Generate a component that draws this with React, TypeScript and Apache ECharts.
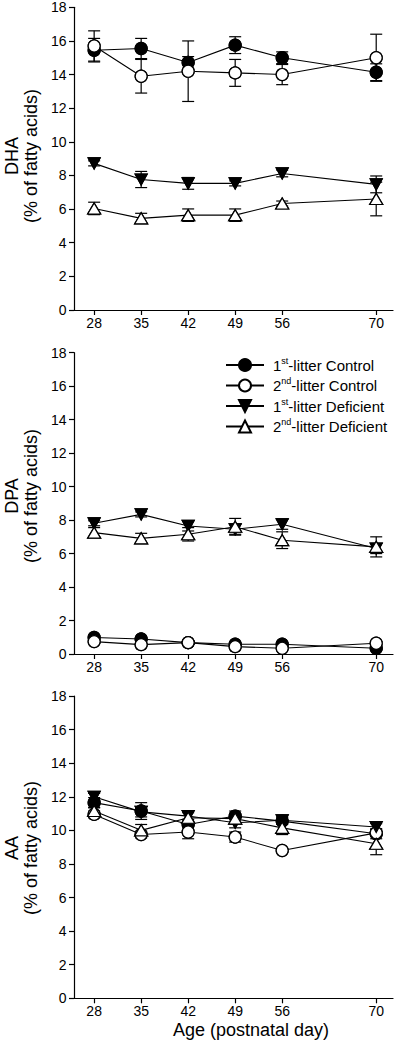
import React, { useEffect, useRef } from "react";
import * as echarts from "echarts";

const ages = [28, 35, 42, 49, 56, 70];
const xTicks = [28, 35, 42, 49, 56, 70];
const seriesNames = ["1st-litter Control", "2nd-litter Control", "1st-litter Deficient", "2nd-litter Deficient"];
const panelNames = ["DHA", "DPA", "AA"];

// DHA (% of fatty acids)
const dha1C = [15.45, 15.55, 14.72, 15.75, 15.0, 14.14];
const dha1CErr = [0.7, 0.6, 0.35, 0.5, 0.35, 0.5];
const dha2C = [15.7, 13.9, 14.2, 14.1, 14.0, 15.0];
const dha2CErr = [0.9, 1.0, 1.8, 0.8, 0.6, 1.4];
const dha1D = [8.72, 7.76, 7.53, 7.53, 8.12, 7.47];
const dha1DErr = [0.15, 0.48, 0.35, 0.15, 0.2, 0.5];
const dha2D = [6.04, 5.45, 5.64, 5.64, 6.33, 6.6];
const dha2DErr = [0.37, 0.3, 0.37, 0.37, 0.15, 1.0];

// DPA
const dpa1C = [0.99, 0.9, 0.68, 0.58, 0.58, 0.34];
const dpa1CErr = [0.1, 0.1, 0.08, 0.08, 0.08, 0.08];
const dpa2C = [0.74, 0.56, 0.68, 0.44, 0.34, 0.64];
const dpa2CErr = [0.1, 0.08, 0.08, 0.08, 0.08, 0.1];
const dpa1D = [7.81, 8.34, 7.65, 7.45, 7.75, 6.3];
const dpa1DErr = [0.15, 0.15, 0.3, 0.3, 0.3, 0.3];
const dpa2D = [7.25, 6.91, 7.15, 7.6, 6.8, 6.4];
const dpa2DErr = [0.3, 0.3, 0.4, 0.5, 0.5, 0.6];

// AA
const aa1C = [11.65, 11.15, 10.35, 10.85, 10.55, 9.8];
const aa1CErr = [0.3, 0.5, 0.3, 0.3, 0.2, 0.3];
const aa2C = [10.95, 9.75, 9.9, 9.6, 8.8, 9.85];
const aa2CErr = [0.2, 0.2, 0.4, 0.3, 0.1, 0.2];
const aa1D = [12.0, 11.1, 10.85, 10.45, 10.6, 10.2];
const aa1DErr = [0.2, 0.3, 0.3, 0.3, 0.2, 0.2];
const aa2D = [11.15, 10.0, 10.75, 10.7, 10.15, 9.2];
const aa2DErr = [0.2, 0.35, 0.3, 0.3, 0.4, 0.65];

const panels = [
  { values: [dha1C, dha2C, dha1D, dha2D], errs: [dha1CErr, dha2CErr, dha1DErr, dha2DErr] },
  { values: [dpa1C, dpa2C, dpa1D, dpa2D], errs: [dpa1CErr, dpa2CErr, dpa1DErr, dpa2DErr] },
  { values: [aa1C, aa2C, aa1D, aa2D], errs: [aa1CErr, aa2CErr, aa1DErr, aa2DErr] },
];

const FONT = "'Liberation Sans', Arial, Helvetica, sans-serif";
const DOWN_TRI = "path://M0,0L12,0L6,11Z";
const symbolFor = [
  { symbol: "circle", fill: "#000", size: 12 },
  { symbol: "circle", fill: "#fff", size: 12 },
  { symbol: DOWN_TRI, fill: "#000", size: [12, 11] },
  { symbol: "triangle", fill: "#fff", size: [13, 11] },
];

const grids = [
  { left: 74, top: 7.3, width: 319, height: 302.7 },
  { left: 74, top: 352.7, width: 319, height: 301.3 },
  { left: 74, top: 696, width: 319, height: 302.3 },
];
const titleY = [156, 496, 848];

export default function App() {
  const ref = useRef<HTMLDivElement>(null);
  useEffect(() => {
    if (!ref.current) return;
    const chart = echarts.init(ref.current, undefined, { renderer: "svg" });

    const xAxes = grids.map((_, i) => ({
      type: "value",
      gridIndex: i,
      min: 25,
      max: 72.5,
      splitLine: { show: false },
      axisLine: { lineStyle: { color: "#000", width: 1.2 } },
      axisTick: { customValues: xTicks, length: 5, lineStyle: { color: "#000", width: 1.2 } },
      axisLabel: { customValues: xTicks, margin: 6, fontSize: 14, color: "#000", fontFamily: FONT },
    }));
    const yAxes = grids.map((_, i) => ({
      type: "value",
      gridIndex: i,
      min: 0,
      max: 18,
      interval: 2,
      splitLine: { show: false },
      axisLine: { show: true, lineStyle: { color: "#000", width: 1.2 } },
      axisTick: { show: true, length: 5, lineStyle: { color: "#000", width: 1.2 } },
      axisLabel: { margin: 7.5, fontSize: 14, color: "#000", fontFamily: FONT },
    }));

    const series: any[] = [];
    panels.forEach((p, pi) => {
      // error bars
      const errData: number[][] = [];
      p.values.forEach((vals, si) => {
        vals.forEach((v, k) => {
          errData.push([ages[k], v - p.errs[si][k], v + p.errs[si][k]]);
        });
      });
      series.push({
        type: "custom",
        name: "err" + pi,
        xAxisIndex: pi,
        yAxisIndex: pi,
        z: 1,
        encode: { x: 0, y: [1, 2] },
        data: errData,
        renderItem: (params: any, api: any) => {
          const x = api.value(0);
          const top = api.coord([x, api.value(2)]);
          const bot = api.coord([x, api.value(1)]);
          const hw = 6;
          const st = { stroke: "#000", lineWidth: 1.2 };
          return {
            type: "group",
            children: [
              { type: "line", shape: { x1: top[0], y1: top[1], x2: bot[0], y2: bot[1] }, style: st },
              { type: "line", shape: { x1: top[0] - hw, y1: top[1], x2: top[0] + hw, y2: top[1] }, style: st },
              { type: "line", shape: { x1: bot[0] - hw, y1: bot[1], x2: bot[0] + hw, y2: bot[1] }, style: st },
            ],
          };
        },
      });
      // lines
      p.values.forEach((vals, si) => {
        const s = symbolFor[si];
        series.push({
          type: "line",
          name: seriesNames[si],
          xAxisIndex: pi,
          yAxisIndex: pi,
          z: 2,
          data: vals.map((v, k) => [ages[k], v]),
          symbol: s.symbol,
          symbolSize: s.size,
          showAllSymbol: true,
          lineStyle: { color: "#000", width: 1.1 },
          itemStyle: { color: s.fill, borderColor: "#000", borderWidth: 1.2 },
        });
      });
      // markers on top
      p.values.forEach((vals, si) => {
        const s = symbolFor[si];
        series.push({
          type: "scatter",
          name: seriesNames[si],
          xAxisIndex: pi,
          yAxisIndex: pi,
          z: 3,
          data: vals.map((v, k) => [ages[k], v]),
          symbol: s.symbol,
          symbolSize: s.size,
          itemStyle: { color: s.fill, borderColor: "#000", borderWidth: 1.2, opacity: 1 },
        });
      });
    });

    const graphic: any[] = [];
    panelNames.forEach((nm, i) => {
      graphic.push({
        type: "text",
        x: 11.7,
        y: titleY[i],
        rotation: Math.PI / 2,
        style: { text: nm, font: `18px ${FONT}`, fill: "#000", textAlign: "center", textVerticalAlign: "middle" },
      });
      graphic.push({
        type: "text",
        x: 30.5,
        y: titleY[i],
        rotation: Math.PI / 2,
        style: { text: "(% of fatty acids)", font: `18px ${FONT}`, fill: "#000", textAlign: "center", textVerticalAlign: "middle" },
      });
    });
    graphic.push({
      type: "text",
      x: 251,
      y: 1030,
      style: { text: "Age (postnatal day)", font: `18px ${FONT}`, fill: "#000", textAlign: "center", textVerticalAlign: "middle" },
    });

    chart.setOption({
      animation: false,
      backgroundColor: "#fff",
      grid: grids,
      xAxis: xAxes,
      yAxis: yAxes,
      legend: {
        data: seriesNames,
        orient: "vertical",
        left: 225,
        top: 356,
        padding: 0,
        itemWidth: 38,
        itemHeight: 15,
        itemGap: 4,
        align: "left",
        formatter: (name: string) => {
          const m = name.match(/^(\d)(st|nd)(.*)$/);
          if (!m) return name;
          return `{n|${m[1]}}{s|${m[2]}}{n|${m[3]}}`;
        },
        textStyle: {
          fontFamily: FONT,
          fontSize: 15,
          color: "#000",
          padding: [0, 0, 0, 4],
          rich: {
            n: { fontSize: 15, lineHeight: 18, fontFamily: FONT, color: "#000" },
            s: { fontSize: 9, lineHeight: 10, verticalAlign: "top", fontFamily: FONT, color: "#000" },
          },
        },
      },
      graphic,
      series,
    });
    return () => chart.dispose();
  }, []);
  return <div ref={ref} style={{ position: "absolute", left: 0, top: 0, width: 400, height: 1043 }} />;
}
